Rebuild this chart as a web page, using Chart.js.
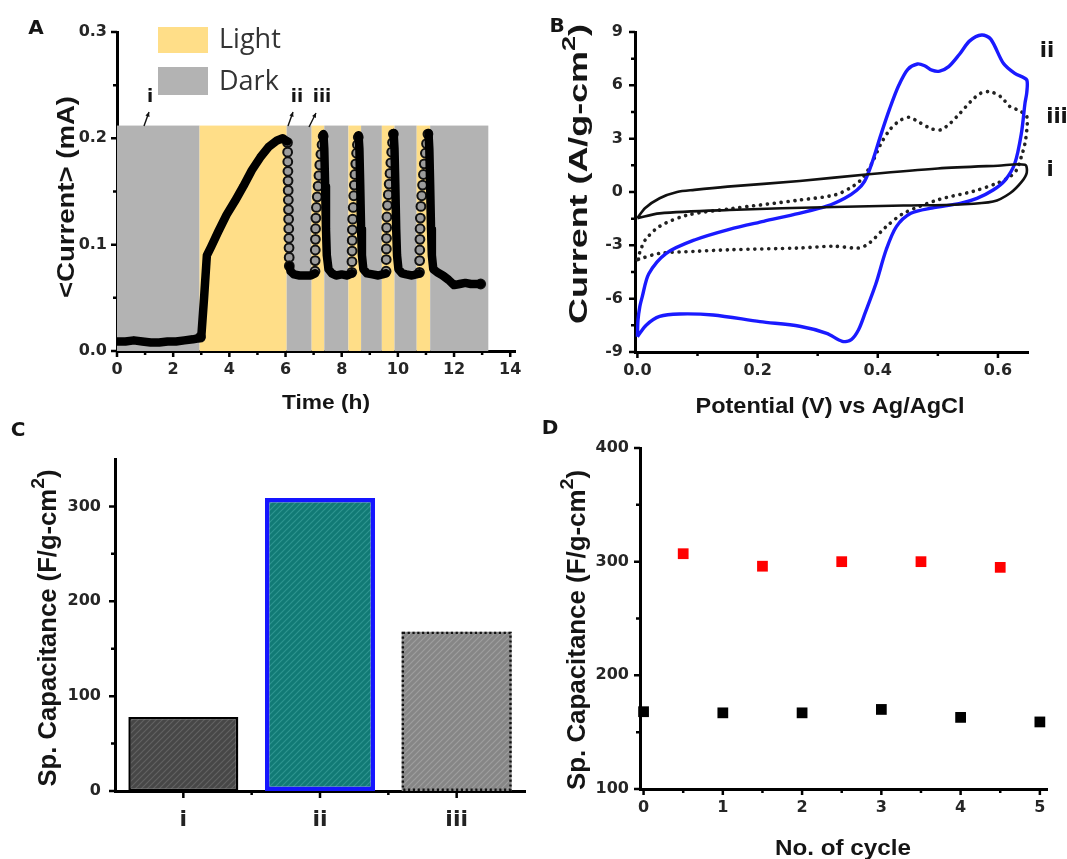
<!DOCTYPE html>
<html>
<head>
<meta charset="utf-8">
<script src="https://cdn.jsdelivr.net/npm/chart.js@4.4.1/dist/chart.umd.min.js"></script>
<style>
  body { margin: 0; background: #fff; }
  #fig { position: relative; width: 1067px; height: 859px; overflow: hidden; background: #fff; }
  canvas { position: absolute; }
</style>
</head>
<body>
<div id="fig">
  <canvas id="cA" width="533" height="420" style="left:0;top:0"></canvas>
  <canvas id="cB" width="534" height="420" style="left:533px;top:0"></canvas>
  <canvas id="cC" width="533" height="439" style="left:0;top:420px"></canvas>
  <canvas id="cD" width="534" height="439" style="left:533px;top:420px"></canvas>
</div>
<script>
// ---------- Panel A: current vs time under light / dark ----------
const aBandEdges = [0, 2.94, 6.04, 6.93, 7.38, 8.24, 8.69, 9.43, 9.88, 10.67, 11.15, 13.22];
const aBandKinds = ['Dark', 'Light', 'Dark', 'Light', 'Dark', 'Light', 'Dark', 'Light', 'Dark', 'Light', 'Dark'];
const aBandTop = 0.212;

// dense part of the trace (null = break)
const aTraceT = [0.02, 0.3, 0.6, 0.9, 1.2, 1.5, 1.8, 2.1, 2.4, 2.7, 2.9, 3.0, 3.1, 3.2, 3.35, 3.6, 3.9, 4.2, 4.5, 4.8, 5.1, 5.4, 5.7, 5.9, 6.06, null,
  6.14, 6.18, 6.3, 6.5, 6.7, 6.9, 7.05, null,
  7.35, 7.38, 7.41, 7.44, 7.47, 7.53, 7.65, 7.8, 8.0, 8.2, 8.36, null,
  8.6, 8.63, 8.66, 8.69, 8.72, 8.77, 8.9, 9.1, 9.3, 9.45, 9.58, null,
  9.85, 9.88, 9.91, 9.94, 9.97, 10.02, 10.15, 10.3, 10.5, 10.65, 10.77, null,
  11.09, 11.12, 11.15, 11.18, 11.21, 11.26, 11.4, 11.6, 11.8, 12.0, 12.2, 12.4, 12.6, 12.8, 12.95];
const aTraceI = [0.009, 0.009, 0.010, 0.009, 0.008, 0.008, 0.009, 0.009, 0.010, 0.011, 0.012, 0.013, 0.05, 0.09, 0.098, 0.112, 0.128, 0.141, 0.155, 0.170, 0.182, 0.192, 0.198, 0.200, 0.197, null,
  0.080, 0.075, 0.072, 0.071, 0.071, 0.071, 0.073, null,
  0.204, 0.19, 0.155, 0.115, 0.09, 0.077, 0.073, 0.071, 0.072, 0.071, 0.073, null,
  0.203, 0.19, 0.155, 0.115, 0.09, 0.077, 0.073, 0.072, 0.071, 0.072, 0.073, null,
  0.205, 0.19, 0.155, 0.115, 0.09, 0.077, 0.073, 0.072, 0.071, 0.072, 0.073, null,
  0.205, 0.19, 0.155, 0.115, 0.09, 0.077, 0.074, 0.071, 0.067, 0.062, 0.063, 0.064, 0.063, 0.063, 0.063];

// separately visible sample circles
const aDotsT = [2.97,
  6.07, 6.075, 6.08, 6.085, 6.09, 6.095, 6.10, 6.105, 6.11, 6.115, 6.12, 6.125, 6.13, 6.135,
  7.05, 7.055, 7.06, 7.065, 7.07, 7.08, 7.10, 7.13, 7.16, 7.19, 7.22, 7.26, 7.30, 7.34,
  8.36, 8.365, 8.37, 8.375, 8.38, 8.39, 8.41, 8.43, 8.45, 8.47, 8.50, 8.53, 8.56, 8.59,
  9.58, 9.585, 9.59, 9.595, 9.60, 9.61, 9.63, 9.66, 9.69, 9.72, 9.75, 9.78, 9.81, 9.84,
  10.77, 10.775, 10.78, 10.785, 10.79, 10.80, 10.82, 10.85, 10.88, 10.91, 10.94, 10.98, 11.02, 11.07,
  12.95];
const aDotsI = [0.013,
  0.196, 0.187, 0.178, 0.169, 0.160, 0.151, 0.142, 0.133, 0.124, 0.115, 0.106, 0.097, 0.088, 0.080,
  0.075, 0.085, 0.095, 0.105, 0.115, 0.125, 0.135, 0.145, 0.155, 0.165, 0.175, 0.185, 0.194, 0.202,
  0.074, 0.084, 0.094, 0.104, 0.114, 0.124, 0.135, 0.146, 0.156, 0.166, 0.176, 0.186, 0.194, 0.201,
  0.075, 0.086, 0.096, 0.106, 0.116, 0.126, 0.137, 0.147, 0.157, 0.167, 0.177, 0.187, 0.196, 0.204,
  0.074, 0.085, 0.095, 0.105, 0.115, 0.125, 0.136, 0.146, 0.156, 0.166, 0.176, 0.186, 0.195, 0.204,
  0.063];

const aXTicks = [0, 2, 4, 6, 8, 10, 12, 14];
const aXLabels = ['0', '2', '4', '6', '8', '10', '12', '14'];
const aXMinor = [1, 3, 5, 7, 9, 11, 13];
const aYTicks = [0, 0.1, 0.2, 0.3];
const aYLabels = ['0.0', '0.1', '0.2', '0.3'];
const aYMinor = [0.05, 0.15, 0.25];

// ---------- Panel B: cyclic voltammograms ----------
const bV1 = [0, 0.013, 0.037, 0.066, 0.095, 0.15, 0.27, 0.385, 0.5, 0.6, 0.645, 0.648, 0.64, 0.62, 0.592, 0.537, 0.443, 0.327, 0.153, 0.037, 0];
const bI1 = [-1.47, -0.9, -0.35, 0, 0.12, 0.3, 0.62, 1.0, 1.32, 1.48, 1.53, 1.1, 0.6, -0.07, -0.54, -0.70, -0.76, -0.84, -1.01, -1.2, -1.47];

const bV2 = [0, 0.001, 0.004, 0.008, 0.019, 0.048, 0.095, 0.153, 0.21, 0.269, 0.315, 0.345, 0.365, 0.378, 0.39, 0.405, 0.42, 0.435, 0.45, 0.466,
  0.478, 0.49, 0.503, 0.518, 0.536, 0.553, 0.573, 0.588, 0.609, 0.628, 0.648, 0.648, 0.645, 0.639, 0.628, 0.612, 0.592, 0.565, 0.537, 0.49,
  0.455, 0.431, 0.414, 0.397, 0.379, 0.368, 0.356, 0.341, 0.315, 0.27, 0.204, 0.126, 0.07, 0.037, 0.015, 0];
const bI2 = [-8.14, -7.2, -6.45, -5.9, -4.6, -3.45, -2.7, -2.1, -1.65, -1.2, -0.8, -0.35, 0.1, 0.6, 1.6, 3.2, 4.7, 6.0, 6.9, 7.2,
  7.1, 6.85, 6.8, 7.05, 7.75, 8.5, 8.83, 8.6, 7.24, 6.67, 6.3, 5.6, 5.0, 3.3, 1.6, 0.67, 0.11, -0.36, -0.64, -0.9,
  -1.2, -1.95, -3.25, -5.15, -6.8, -7.75, -8.3, -8.4, -7.95, -7.55, -7.29, -6.92, -6.86, -7.0, -7.48, -8.14];

const bV3 = [0, 0.005, 0.013, 0.037, 0.083, 0.153, 0.27, 0.33, 0.36, 0.375, 0.39, 0.405, 0.42, 0.436, 0.452, 0.47, 0.49, 0.505, 0.52, 0.536,
  0.555, 0.571, 0.587, 0.605, 0.62, 0.634, 0.648, 0.648, 0.645, 0.639, 0.631, 0.62, 0.598, 0.559, 0.501, 0.443, 0.414, 0.385, 0.368, 0.327,
  0.269, 0.153, 0.095, 0.037, 0.005, 0];
const bI3 = [-3.8, -3.3, -2.7, -1.93, -1.3, -0.95, -0.45, -0.15, 0.35, 0.8, 1.6, 2.7, 3.5, 4.0, 4.2, 3.9, 3.55, 3.5, 3.85, 4.4,
  5.1, 5.55, 5.64, 5.35, 4.8, 4.6, 4.24, 3.5, 2.74, 1.99, 1.24, 0.86, 0.49, 0.04, -0.43, -1.2, -1.95, -2.9, -3.15, -3.05,
  -3.15, -3.25, -3.34, -3.45, -3.75, -3.8];

const bXTicks = [0, 0.2, 0.4, 0.6];
const bXLabels = ['0.0', '0.2', '0.4', '0.6'];
const bXMinor = [0.1, 0.3, 0.5];
const bYTicks = [-9, -6, -3, 0, 3, 6, 9];
const bYLabels = ['-9', '-6', '-3', '0', '3', '6', '9'];
const bYMinor = [-7.5, -4.5, -1.5, 1.5, 4.5, 7.5];
const bCurveNames = ['i', 'ii', 'iii'];

// ---------- Panel C: specific capacitance bars ----------
const cCats = ['i', 'ii', 'iii'];
const cValues = [78, 309, 168];
const cYTicks = [0, 100, 200, 300];
const cYLabels = ['0', '100', '200', '300'];
const cYMinor = [50, 150, 250];
const cXMinor = [0.5, 1.5];

// ---------- Panel D: capacitance vs cycle ----------
const dCycleBlack = [0, 1, 2, 3, 4, 5];
const dBlack = [168, 167, 167, 170, 163, 159];
const dCycleRed = [0.5, 1.5, 2.5, 3.5, 4.5];
const dRed = [307, 296, 300, 300, 295];
const dXTicks = [0, 1, 2, 3, 4, 5];
const dXLabels = ['0', '1', '2', '3', '4', '5'];
const dXMinor = [0.5, 1.5, 2.5, 3.5, 4.5];
const dYTicks = [100, 200, 300, 400];
const dYLabels = ['100', '200', '300', '400'];
const dYMinor = [150, 250, 350];

// ---------- helpers ----------
const TICK_FONT = { family: 'DejaVu Sans', weight: 'bold', size: 16 };
const TITLE_FAMILY = '"Liberation Sans", Arial, sans-serif';

const pts = (xs, ys) => xs.map((x, i) => ({ x: x, y: ys[i] }));

function linAxis(min, max, ticks, labels, pad, fit) {
  return {
    type: 'linear', min: min, max: max,
    grid: { display: false, drawTicks: false },
    border: { color: '#000', width: 3 },
    afterBuildTicks: s => { s.ticks = ticks.map(v => ({ value: v })); },
    ticks: { autoSkip: false, maxRotation: 0, padding: pad, color: '#262626', font: TICK_FONT,
      callback: (v, i) => labels[i] },
    afterFit: fit
  };
}

function marks(chart, id, vals, len, w) {
  const s = chart.scales[id], a = chart.chartArea, ctx = chart.ctx;
  ctx.save();
  ctx.strokeStyle = '#000';
  ctx.lineWidth = w;
  ctx.beginPath();
  vals.forEach(v => {
    const p = s.getPixelForValue(v);
    if (s.isHorizontal()) { ctx.moveTo(p, a.bottom); ctx.lineTo(p, a.bottom + len); }
    else { ctx.moveTo(a.left, p); ctx.lineTo(a.left - len, p); }
  });
  ctx.stroke();
  ctx.restore();
}

// title text with optional superscript parts, stretched to a target length
function title(ctx, parts, cx, cy, size, len, vertical) {
  const big = 'bold ' + size + 'px ' + TITLE_FAMILY;
  const small = 'bold ' + Math.round(size * 0.75) + 'px ' + TITLE_FAMILY;
  ctx.save();
  ctx.translate(cx, cy);
  if (vertical) ctx.rotate(-Math.PI / 2);
  let total = 0;
  const items = parts.map(p => {
    ctx.font = p.sup ? small : big;
    const w = ctx.measureText(p.t).width;
    total += w;
    return { t: p.t, sup: p.sup, w: w };
  });
  ctx.scale(len ? len / total : 1, 1);
  ctx.fillStyle = '#151515';
  ctx.textAlign = 'left';
  ctx.textBaseline = 'alphabetic';
  const cap = size * 0.72;
  let x = -total / 2;
  items.forEach(it => {
    ctx.font = it.sup ? small : big;
    ctx.fillText(it.t, x, it.sup ? cap / 2 - size * 0.48 : cap / 2);
    x += it.w;
  });
  ctx.restore();
}

function label(ctx, t, x, y, size, color) {
  ctx.save();
  ctx.font = 'bold ' + size + 'px "DejaVu Sans"';
  ctx.fillStyle = color || '#151515';
  ctx.textAlign = 'center';
  ctx.textBaseline = 'middle';
  ctx.fillText(t, x, y);
  ctx.restore();
}

function decor(offX, offY, tickFn, drawFn) {
  return {
    id: 'decor',
    afterDraw(chart) {
      tickFn(chart);
      const ctx = chart.ctx;
      ctx.save();
      ctx.translate(-offX, -offY);
      drawFn(ctx, chart);
      ctx.restore();
    }
  };
}

function hatch(bg, fg) {
  const c = document.createElement('canvas');
  c.width = 6; c.height = 6;
  const g = c.getContext('2d');
  g.fillStyle = bg;
  g.fillRect(0, 0, 6, 6);
  g.strokeStyle = fg;
  g.lineWidth = 1.2;
  g.beginPath();
  g.moveTo(-1, 7); g.lineTo(7, -1);
  g.moveTo(-4, 4); g.lineTo(4, -4);
  g.moveTo(2, 10); g.lineTo(10, 2);
  g.stroke();
  return g.createPattern(c, 'repeat');
}

Chart.defaults.animation = false;
Chart.defaults.devicePixelRatio = 1;
Chart.defaults.plugins.legend.display = false;
Chart.defaults.plugins.tooltip.enabled = false;

const bandColors = { Light: '#FFDE88', Dark: '#B3B3B3' };

// ---------- Chart A ----------
const bandsPlugin = {
  id: 'bands',
  beforeDatasetsDraw(chart) {
    const { ctx, scales: { x, y } } = chart;
    ctx.save();
    aBandKinds.forEach((k, i) => {
      const x0 = x.getPixelForValue(aBandEdges[i]);
      const x1 = x.getPixelForValue(aBandEdges[i + 1]);
      const yt = y.getPixelForValue(aBandTop);
      const yb = y.getPixelForValue(0);
      ctx.fillStyle = bandColors[k];
      ctx.fillRect(x0, yt, x1 - x0, yb - yt);
    });
    ctx.restore();
  }
};

function arrow(ctx, x0, y0, x1, y1) {
  ctx.save();
  ctx.strokeStyle = '#111';
  ctx.fillStyle = '#111';
  ctx.lineWidth = 1.4;
  ctx.beginPath(); ctx.moveTo(x0, y0); ctx.lineTo(x1, y1); ctx.stroke();
  const ang = Math.atan2(y1 - y0, x1 - x0);
  ctx.beginPath();
  ctx.moveTo(x1, y1);
  ctx.lineTo(x1 - 5 * Math.cos(ang - 0.45), y1 - 5 * Math.sin(ang - 0.45));
  ctx.lineTo(x1 - 5 * Math.cos(ang + 0.45), y1 - 5 * Math.sin(ang + 0.45));
  ctx.closePath(); ctx.fill();
  ctx.restore();
}

new Chart(document.getElementById('cA'), {
  type: 'scatter',
  data: {
    datasets: [
      { data: pts(aTraceT, aTraceI), showLine: true, borderColor: '#000', borderWidth: 8.5,
        borderJoinStyle: 'round', borderCapStyle: 'round', pointRadius: 0, spanGaps: false },
      { data: pts(aDotsT, aDotsI), showLine: false, pointRadius: 4.4, pointBorderWidth: 2,
        pointBackgroundColor: '#9c9c9c', pointBorderColor: '#111' }
    ]
  },
  options: {
    responsive: false,
    layout: { padding: { left: 0, top: 32, right: 18, bottom: 0 } },
    scales: {
      x: linAxis(0, 14.17, aXTicks, aXLabels, 9, s => { s.height = 69; }),
      y: linAxis(0, 0.3, aYTicks, aYLabels, 10, s => { s.width = 117; })
    }
  },
  plugins: [bandsPlugin, decor(0, 0, chart => {
    marks(chart, 'x', aXTicks, 6, 2.5); marks(chart, 'x', aXMinor, 4, 2.5);
    marks(chart, 'y', aYTicks, 6, 2.5); marks(chart, 'y', aYMinor, 4, 2.5);
  }, ctx => {
    label(ctx, 'A', 36, 29, 20);
    // legend
    ctx.fillStyle = bandColors.Light; ctx.fillRect(158, 27, 50, 26);
    ctx.fillStyle = bandColors.Dark; ctx.fillRect(158, 67, 50, 28);
    ctx.font = '27px "Open Sans"';
    ctx.fillStyle = '#333';
    ctx.textAlign = 'left';
    ctx.textBaseline = 'alphabetic';
    ctx.fillText('Light', 219, 48);
    ctx.fillText('Dark', 219, 90);
    // sample markers
    label(ctx, 'i', 150, 97, 18);
    label(ctx, 'ii', 297, 97, 18);
    label(ctx, 'iii', 322, 97, 18);
    arrow(ctx, 144, 126, 149, 112);
    arrow(ctx, 288, 126, 293, 112);
    arrow(ctx, 309, 127, 316, 113);
    title(ctx, [{ t: '<Current> (mA)' }], 65, 197, 24, 202, true);
    title(ctx, [{ t: 'Time (h)' }], 326, 401, 21, 88, false);
  })]
});

// ---------- Chart B ----------
new Chart(document.getElementById('cB'), {
  type: 'scatter',
  data: {
    datasets: [
      { label: bCurveNames[0], data: pts(bV1, bI1), showLine: true, borderColor: '#111', borderWidth: 2.6,
        pointRadius: 0, tension: 0.3, clip: 6 },
      { label: bCurveNames[1], data: pts(bV2, bI2), showLine: true, borderColor: '#1a1aff', borderWidth: 3.4,
        pointRadius: 0, tension: 0.3, clip: 6 },
      { label: bCurveNames[2], data: pts(bV3, bI3), showLine: true, borderColor: '#222', borderWidth: 3.6,
        borderDash: [0.1, 6.8], borderCapStyle: 'round', pointRadius: 0, tension: 0.3, clip: 6 }
    ]
  },
  options: {
    responsive: false,
    layout: { padding: { left: 0, top: 32, right: 39, bottom: 0 } },
    scales: {
      x: linAxis(-0.004, 0.65, bXTicks, bXLabels, 9, s => { s.height = 68; }),
      y: linAxis(-9, 9, bYTicks, bYLabels, 12, s => { s.width = 102; })
    }
  },
  plugins: [decor(533, 0, chart => {
    marks(chart, 'x', bXTicks, 6, 2.5); marks(chart, 'x', bXMinor, 4, 2.5);
    marks(chart, 'y', bYTicks, 6, 2.5); marks(chart, 'y', bYMinor, 4, 2.5);
  }, ctx => {
    label(ctx, 'B', 557, 27, 20);
    label(ctx, bCurveNames[1], 1047, 52, 21);
    label(ctx, bCurveNames[2], 1057, 118, 21);
    label(ctx, bCurveNames[0], 1050, 171, 21);
    title(ctx, [{ t: 'Current (A/g-cm' }, { t: '2', sup: true }, { t: ')' }], 578, 174, 25, 300, true);
    title(ctx, [{ t: 'Potential (V) vs Ag/AgCl' }], 830, 405, 22, 269, false);
  })]
});

// ---------- Chart C ----------
const cCtx = document.getElementById('cC').getContext('2d');
const cFills = [hatch('#474747', '#626262'), hatch('#117a75', '#2e958f'), hatch('#868686', '#9e9e9e')];

const dottedBar = {
  id: 'dottedBar',
  afterDatasetsDraw(chart) {
    const el = chart.getDatasetMeta(0).data[2];
    const p = el.getProps(['x', 'y', 'base', 'width'], true);
    const ctx = chart.ctx;
    ctx.save();
    ctx.strokeStyle = '#111';
    ctx.lineWidth = 2.4;
    ctx.setLineDash([2.2, 2.6]);
    ctx.strokeRect(p.x - p.width / 2 + 1.2, p.y + 1.2, p.width - 2.4, p.base - p.y - 2.4);
    ctx.restore();
  }
};

new Chart(cCtx, {
  type: 'bar',
  data: {
    labels: cCats,
    datasets: [{
      data: cValues,
      backgroundColor: cFills,
      borderColor: ['#000', '#1515ff', 'rgba(0,0,0,0)'],
      borderWidth: [2.5, 4.5, 0],
      borderSkipped: false,
      categoryPercentage: 1,
      barPercentage: 0.805
    }]
  },
  options: {
    responsive: false,
    layout: { padding: { left: 0, top: 39, right: 8, bottom: 0 } },
    scales: {
      x: {
        type: 'category', offset: true,
        grid: { display: false, drawTicks: false },
        border: { color: '#000', width: 3 },
        ticks: { padding: 16, color: '#222', font: { family: 'DejaVu Sans', weight: 'bold', size: 22 } },
        afterFit: s => { s.height = 68; }
      },
      y: linAxis(0, 350, cYTicks, cYLabels, 14, s => { s.width = 115; })
    }
  },
  plugins: [dottedBar, decor(0, 420, chart => {
    marks(chart, 'x', [0, 1, 2], 7, 2.5); marks(chart, 'x', cXMinor, 4, 2.5);
    marks(chart, 'y', cYTicks, 6, 2.5); marks(chart, 'y', cYMinor, 4, 2.5);
  }, ctx => {
    label(ctx, 'C', 18, 431, 20);
    title(ctx, [{ t: 'Sp. Capacitance (F/g-cm' }, { t: '2', sup: true }, { t: ')' }], 47, 628, 25, 317, true);
  })]
});

// ---------- Chart D ----------
new Chart(document.getElementById('cD'), {
  type: 'scatter',
  data: {
    datasets: [
      { data: pts(dCycleBlack, dBlack), pointStyle: 'rect', pointRadius: 7.6, pointBorderWidth: 0,
        pointBackgroundColor: '#000', clip: 10 },
      { data: pts(dCycleRed, dRed), pointStyle: 'rect', pointRadius: 7.6, pointBorderWidth: 0,
        pointBackgroundColor: '#ff0000', clip: 10 }
    ]
  },
  options: {
    responsive: false,
    layout: { padding: { left: 0, top: 28, right: 20, bottom: 0 } },
    scales: {
      x: linAxis(-0.045, 5.09, dXTicks, dXLabels, 9, s => { s.height = 70; }),
      y: linAxis(100, 400, dYTicks, dYLabels, 11, s => { s.width = 107; })
    }
  },
  plugins: [decor(533, 420, chart => {
    marks(chart, 'x', dXTicks, 6, 2.5); marks(chart, 'x', dXMinor, 4, 2.5);
    marks(chart, 'y', dYTicks, 6, 2.5); marks(chart, 'y', dYMinor, 4, 2.5);
  }, ctx => {
    label(ctx, 'D', 550, 429, 20);
    title(ctx, [{ t: 'Sp. Capacitance (F/g-cm' }, { t: '2', sup: true }, { t: ')' }], 576, 630, 25, 320, true);
    title(ctx, [{ t: 'No. of cycle' }], 843, 847, 22, 136, false);
  })]
});
</script>
</body>
</html>
